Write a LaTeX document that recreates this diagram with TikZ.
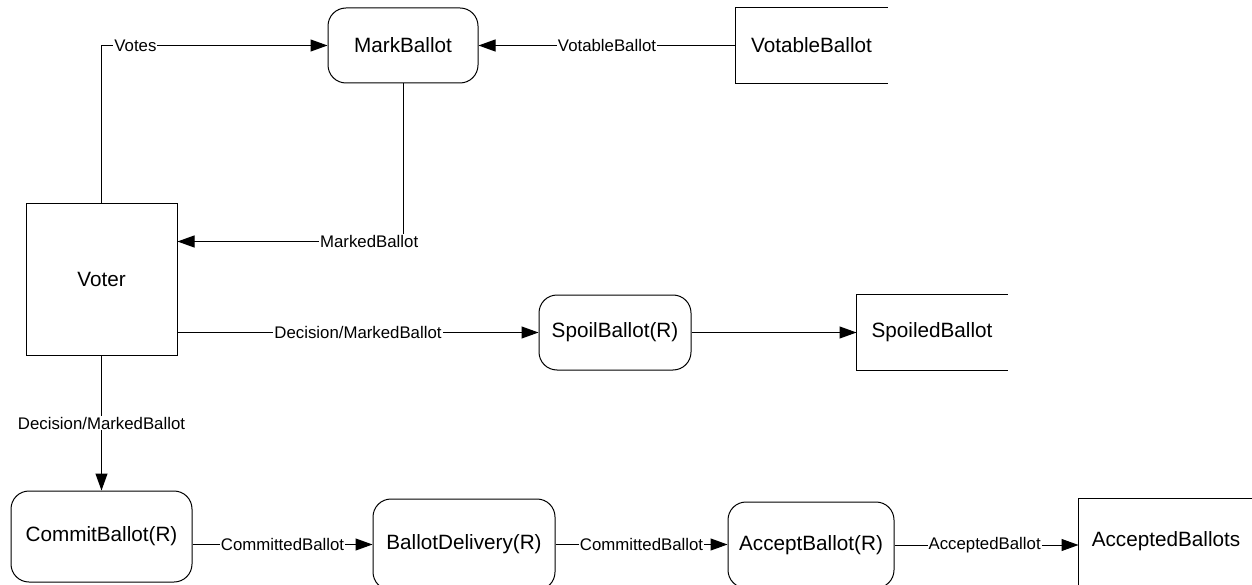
\documentclass[tikz,border=0pt]{standalone}
\usepackage{fontspec}
\setmainfont{Liberation Sans}
\usetikzlibrary{arrows.meta,calc}
\tikzset{
  every picture/.style={x=1pt,y=-1pt,line width=1pt},
  proc/.style={draw,rounded corners=18pt,inner sep=0pt,font=\fontsize{20.7pt}{24pt}\selectfont},
  entity/.style={draw,inner sep=0pt,font=\fontsize{20.7pt}{24pt}\selectfont},
  store/.style={draw=none,inner sep=0pt,font=\fontsize{20.7pt}{24pt}\selectfont},
  lbl/.style={fill=white,inner sep=1pt,font=\fontsize{16.8pt}{20pt}\selectfont},
  arr/.style={-{Triangle[length=17pt,width=12pt]}},
  storeside/.style={line width=1pt}
}
\begin{document}
\begin{tikzpicture}
\useasboundingbox (0,0) rectangle (1252,585);
\clip (0,0) rectangle (1252,585);
% nodes
\node[proc,minimum width=150pt,minimum height=75pt] (mark) at (403,45.5) {MarkBallot};
\node[store,minimum width=151pt,minimum height=75pt] (votable) at (811.5,45.5) {VotableBallot};
\node[entity,minimum width=151pt,minimum height=151pt] (voter) at (101.5,279.5) {Voter};
\node[proc,minimum width=152pt,minimum height=75pt] (spoil) at (615,332.5) {SpoilBallot(R)};
\node[store,minimum width=150pt,minimum height=75pt] (spoiled) at (932,332.5) {SpoiledBallot};
\node[proc,minimum width=181pt,minimum height=91pt] (commit) at (101.5,536.5) {CommitBallot(R)};
\node[proc,minimum width=182pt,minimum height=91pt] (delivery) at (464,544.5) {BallotDelivery(R)};
\node[proc,minimum width=166pt,minimum height=86pt] (accept) at (811,545) {AcceptBallot(R)};
\node[store,minimum width=174pt,minimum height=91pt] (accepted) at (1166,544.5) {};
\node[store] (acceptedtxt) at (1166,541) {AcceptedBallots};
% open-ended data stores
\draw[storeside] (votable.north east) -- (votable.north west) -- (votable.south west) -- (votable.south east);
\draw[storeside] (spoiled.north east) -- (spoiled.north west) -- (spoiled.south west) -- (spoiled.south east);
\draw[storeside] (accepted.north east) -- (accepted.north west) -- (accepted.south west) -- (accepted.south east);
% connectors
\draw[arr] (voter.north) |- (mark.west) node[lbl,pos=0.575] {Votes};
\draw[arr] (votable.west) -- (mark.east) node[lbl,pos=0.5] {VotableBallot};
\coordinate (voterin) at ($(voter.north east)!0.25!(voter.south east)$);
\draw[arr] (mark.south) |- (voterin) node[lbl,pos=0.575] {MarkedBallot};
\draw[arr] (voter.east |- spoil.west) -- (spoil.west) node[lbl,pos=0.5] {Decision/MarkedBallot};
\draw[arr] (spoil.east) -- (spoiled.west);
\draw[arr] (voter.south) -- (commit.north) node[lbl,pos=0.5] {Decision/MarkedBallot};
\draw[arr] (commit.east |- delivery.west) -- (delivery.west) node[lbl,pos=0.5] {CommittedBallot};
\draw[arr] (delivery.east) -- (accept.west |- delivery.east) node[lbl,pos=0.5] {CommittedBallot};
\draw[arr] (accept.east) -- (accepted.west |- accept.east) node[lbl,pos=0.49] {AcceptedBallot};
\end{tikzpicture}
\end{document}
